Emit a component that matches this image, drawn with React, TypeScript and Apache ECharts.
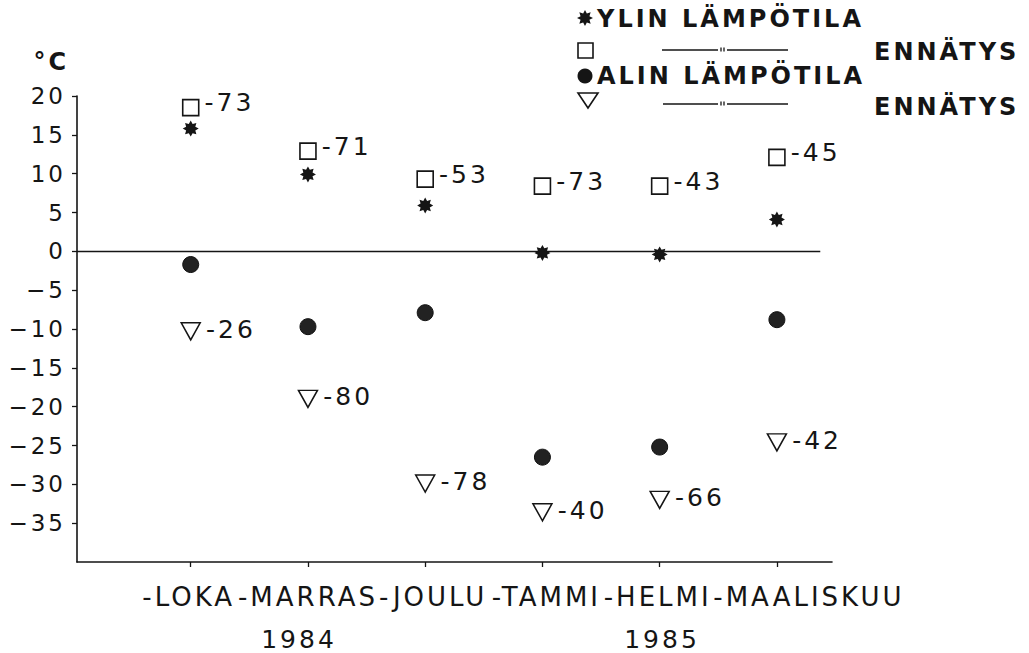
import React, { useEffect, useRef } from 'react';
import * as echarts from 'echarts';

// ---- data ----
const months = ['-LOKA', '-MARRAS', '-JOULU', '-TAMMI', '-HELMI', '-MAALISKUU'];
const years = ['1984', '1985'];
const yTicks = [20, 15, 10, 5, 0, -5, -10, -15, -20, -25, -30, -35];
const monthIdx = [0, 1, 2, 3, 4, 5];
const ylin = [15.8, 9.9, 5.9, -0.2, -0.4, 4.1];
const ylinEnnatys = [18.5, 12.9, 9.3, 8.4, 8.4, 12.1];
const ylinEnnatysYear = ['-73', '-71', '-53', '-73', '-43', '-45'];
const alin = [-1.7, -9.7, -7.9, -26.5, -25.2, -8.8];
const alinEnnatys = [-10.3, -19.0, -29.9, -33.6, -32.0, -24.6];
const alinEnnatysYear = ['-26', '-80', '-78', '-40', '-66', '-42'];
const legendTexts = ['YLIN LÄMPÖTILA', 'ENNÄTYS', 'ALIN LÄMPÖTILA', 'ENNÄTYS'];

const INK = '#151515';
const FONT = "'DejaVu Sans', sans-serif";

function starPoints(cx: number, cy: number, R: number, r: number) {
  const pts: number[][] = [];
  for (let i = 0; i < 16; i++) {
    const a = -Math.PI / 2 + (i * Math.PI) / 8;
    const rad = i % 2 === 0 ? R : r;
    pts.push([cx + rad * Math.cos(a), cy + rad * Math.sin(a)]);
  }
  return pts;
}
const starPath =
  'path://M' + starPoints(10, 10, 10, 6.2).map((p) => p[0].toFixed(2) + ',' + p[1].toFixed(2)).join('L') + 'Z';

function ditto(x: number, y: number) {
  return [
    { type: 'line', shape: { x1: x - 1.5, y1: y - 2.5, x2: x - 1.5, y2: y + 1.5 }, style: { stroke: INK, lineWidth: 1.3 } },
    { type: 'line', shape: { x1: x + 1.5, y1: y - 2.5, x2: x + 1.5, y2: y + 1.5 }, style: { stroke: INK, lineWidth: 1.3 } },
  ];
}

export default function App() {
  const ref = useRef<HTMLDivElement>(null);
  useEffect(() => {
    document.body.style.margin = '0';
    const chart = echarts.init(ref.current!, undefined, { renderer: 'svg' });
    const pairs = (vals: number[]) => vals.map((v, i) => [monthIdx[i], v]);
    const labelStyle = { fontSize: 25, fontFamily: FONT, color: INK };
    const xLabelStyle = { fontSize: 26, fontFamily: FONT, color: INK };
    const richKeys = ['l', 'r', 'j', 't', 'h', 'm'];
    const option: any = {
      animation: false,
      backgroundColor: '#ffffff',
      textStyle: { fontFamily: FONT, color: INK },
      grid: { left: 77, right: 197, top: 96, bottom: 91, outerBoundsMode: 'none' },
      xAxis: {
        type: 'value',
        min: -0.97,
        max: 5.47,
        axisLine: { show: true, onZero: false, lineStyle: { color: INK, width: 1.6 } },
        axisTick: { show: true, customValues: monthIdx, length: 5, lineStyle: { color: INK, width: 1.3 } },
        axisLabel: {
          show: true,
          customValues: monthIdx,
          margin: 22,
          ...xLabelStyle,
          formatter: (v: number) => {
            const i = Math.round(v);
            return '{' + richKeys[i] + '|' + months[i] + '}';
          },
          rich: {
            l: { ...xLabelStyle, padding: [0, 4, 0, 0] },
            r: { ...xLabelStyle },
            j: { ...xLabelStyle, padding: [0, 0, 0, 16] },
            t: { ...xLabelStyle, padding: [0, 0, 0, 8] },
            h: { ...xLabelStyle, padding: [0, 4, 0, 0] },
            m: { ...xLabelStyle, padding: [0, 0, 0, 64] },
          },
        },
        splitLine: { show: false },
      },
      yAxis: {
        type: 'value',
        min: -40,
        max: 20,
        interval: 5,
        name: '°C',
        nameLocation: 'end',
        nameGap: 22,
        nameTextStyle: { fontSize: 24, fontWeight: 'bold', fontFamily: FONT, color: INK, align: 'right', padding: [0, 8, 0, 0] },
        axisLine: { show: true, onZero: false, lineStyle: { color: INK, width: 1.6 } },
        axisTick: { show: true, customValues: yTicks, length: 5, lineStyle: { color: INK, width: 1.3 } },
        axisLabel: {
          show: true,
          customValues: yTicks,
          margin: 11,
          fontSize: 23,
          fontFamily: FONT,
          color: INK,
          formatter: (v: number) => (v < 0 ? '\u2212' + Math.abs(v) : String(v)),
        },
        splitLine: { show: false },
      },
      series: [
        {
          name: 'YLIN LÄMPÖTILA',
          type: 'scatter',
          data: pairs(ylin),
          symbol: starPath,
          symbolSize: 16,
          itemStyle: { color: INK, opacity: 1 },
          z: 5,
          markLine: {
            silent: true,
            symbol: 'none',
            label: { show: false },
            lineStyle: { color: INK, width: 1.3, type: 'solid', opacity: 1 },
            data: [[{ coord: [-0.97, 0] }, { coord: [5.37, 0] }]],
          },
        },
        {
          name: 'YLIN ENNÄTYS',
          type: 'scatter',
          data: pairs(ylinEnnatys),
          symbol: 'rect',
          symbolSize: 16,
          itemStyle: { color: '#ffffff', borderColor: INK, borderWidth: 1.6, opacity: 1 },
          label: {
            show: true,
            position: 'right',
            distance: 5,
            offset: [0, -5],
            ...labelStyle,
            formatter: (p: any) => ylinEnnatysYear[p.dataIndex],
          },
        },
        {
          name: 'ALIN LÄMPÖTILA',
          type: 'scatter',
          data: pairs(alin),
          symbol: 'circle',
          symbolSize: 16,
          itemStyle: { color: '#222222', borderColor: '#111111', borderWidth: 1, opacity: 1 },
        },
        {
          name: 'ALIN ENNÄTYS',
          type: 'scatter',
          data: pairs(alinEnnatys),
          symbol: 'triangle',
          symbolRotate: 180,
          symbolSize: [19, 17],
          itemStyle: { color: '#ffffff', borderColor: INK, borderWidth: 1.5, opacity: 1 },
          label: {
            show: true,
            position: 'right',
            distance: 5,
            offset: [0, -2],
            ...labelStyle,
            formatter: (p: any) => alinEnnatysYear[p.dataIndex],
          },
        },
      ],
      graphic: [
        // year labels
        { type: 'text', x: 299, y: 639, style: { text: years[0], font: `25px ${FONT}`, fill: INK, align: 'center', verticalAlign: 'middle' } },
        { type: 'text', x: 662, y: 639, style: { text: years[1], font: `25px ${FONT}`, fill: INK, align: 'center', verticalAlign: 'middle' } },
        // legend row 1
        { type: 'polygon', shape: { points: starPoints(585, 18, 8, 4.8) }, style: { fill: INK } },
        { type: 'text', x: 597, y: 19, style: { text: legendTexts[0], font: `bold 24px ${FONT}`, fill: INK, align: 'left', verticalAlign: 'middle' } },
        // legend row 2
        { type: 'rect', shape: { x: 578, y: 43, width: 15, height: 15 }, style: { fill: '#fff', stroke: INK, lineWidth: 1.6 } },
        { type: 'line', shape: { x1: 662, y1: 50, x2: 718, y2: 50 }, style: { stroke: INK, lineWidth: 1.4 } },
        { type: 'line', shape: { x1: 727, y1: 50, x2: 788, y2: 50 }, style: { stroke: INK, lineWidth: 1.4 } },
        ...ditto(722.5, 50),
        { type: 'text', x: 874, y: 52, style: { text: legendTexts[1], font: `bold 24px ${FONT}`, fill: INK, align: 'left', verticalAlign: 'middle' } },
        // legend row 3
        { type: 'circle', shape: { cx: 585, cy: 76, r: 7.5 }, style: { fill: INK } },
        { type: 'text', x: 597, y: 76, style: { text: legendTexts[2], font: `bold 24px ${FONT}`, fill: INK, align: 'left', verticalAlign: 'middle' } },
        // legend row 4
        { type: 'polygon', shape: { points: [[578, 93], [598, 93], [588, 108]] }, style: { fill: '#fff', stroke: INK, lineWidth: 1.6 } },
        { type: 'line', shape: { x1: 663, y1: 104, x2: 718, y2: 104 }, style: { stroke: INK, lineWidth: 1.4 } },
        { type: 'line', shape: { x1: 727, y1: 104, x2: 788, y2: 104 }, style: { stroke: INK, lineWidth: 1.4 } },
        ...ditto(722.5, 104),
        { type: 'text', x: 874, y: 107, style: { text: legendTexts[3], font: `bold 24px ${FONT}`, fill: INK, align: 'left', verticalAlign: 'middle' } },
      ],
    };
    chart.setOption(option);
    return () => chart.dispose();
  }, []);
  return <div ref={ref} style={{ width: 1029, height: 653, letterSpacing: '3px' }} />;
}
